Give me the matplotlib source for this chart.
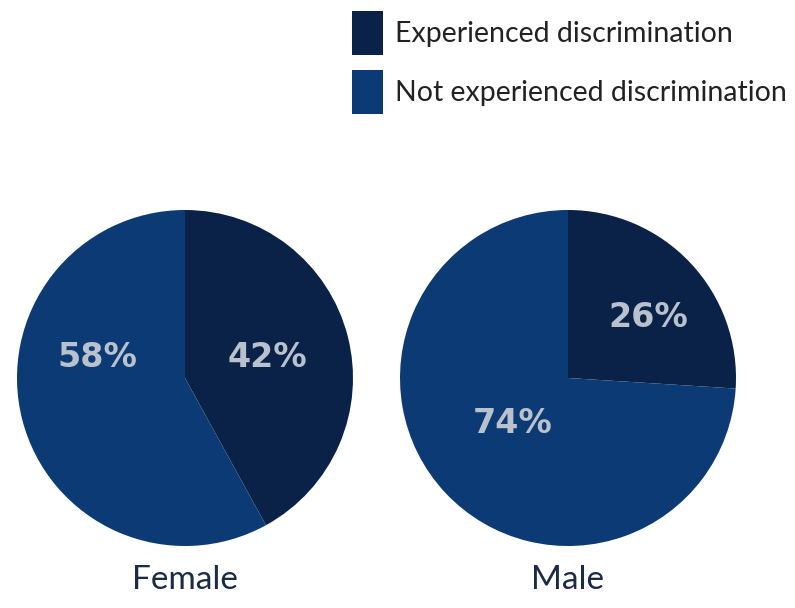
import matplotlib.pyplot as plt

groups = ['Female', 'Male']
categories = ['Experienced discrimination', 'Not experienced discrimination']
shares = [[42, 58], [26, 74]]
colors = ['#0a2248', '#0b3a74']

W, H = 795, 608
fig = plt.figure(figsize=(W / 100, H / 100), dpi=100)

# pie boxes in pixels: (center x, center y, radius)
boxes = [(185, 378, 168), (568, 378, 168)]
# where the percentage labels sit, in units of the radius
label_pos = [[(0.49, 0.12), (-0.52, 0.12)], [(0.48, 0.36), (-0.33, -0.27)]]

wedges = None
for name, vals, (cx, cy, r), pos in zip(groups, shares, boxes, label_pos):
    ax = fig.add_axes([(cx - r) / W, (H - cy - r) / H, 2 * r / W, 2 * r / H])
    wedges, _, autotexts = ax.pie(vals, colors=colors, startangle=90, counterclock=False,
                                  autopct='%d%%', wedgeprops=dict(linewidth=0))
    for t, p in zip(autotexts, pos):
        t.set_position(p)
        t.set_color('#b9c1cd')
        t.set_fontsize(24)
        t.set_fontweight('heavy')
        t.set_family('DejaVu Sans')
    ax.set_xlim(-1, 1)
    ax.set_ylim(-1, 1)
    ax.set_aspect('equal')
    ax.axis('off')
    fig.text(cx / W, 1 - 580 / H, name, ha='center', va='center',
             fontsize=24, color='#1b2a48', family='Lato')

fig.legend(wedges, categories, loc='upper left', bbox_to_anchor=(352 / W, 1 - 11 / H),
           frameon=False, borderpad=0, borderaxespad=0, handlelength=1.08, handleheight=2.0,
           handletextpad=0.43, labelspacing=0.54, labelcolor='#222222',
           prop={'family': 'Lato', 'size': 20.5})

fig.savefig('out.png', dpi=100)
